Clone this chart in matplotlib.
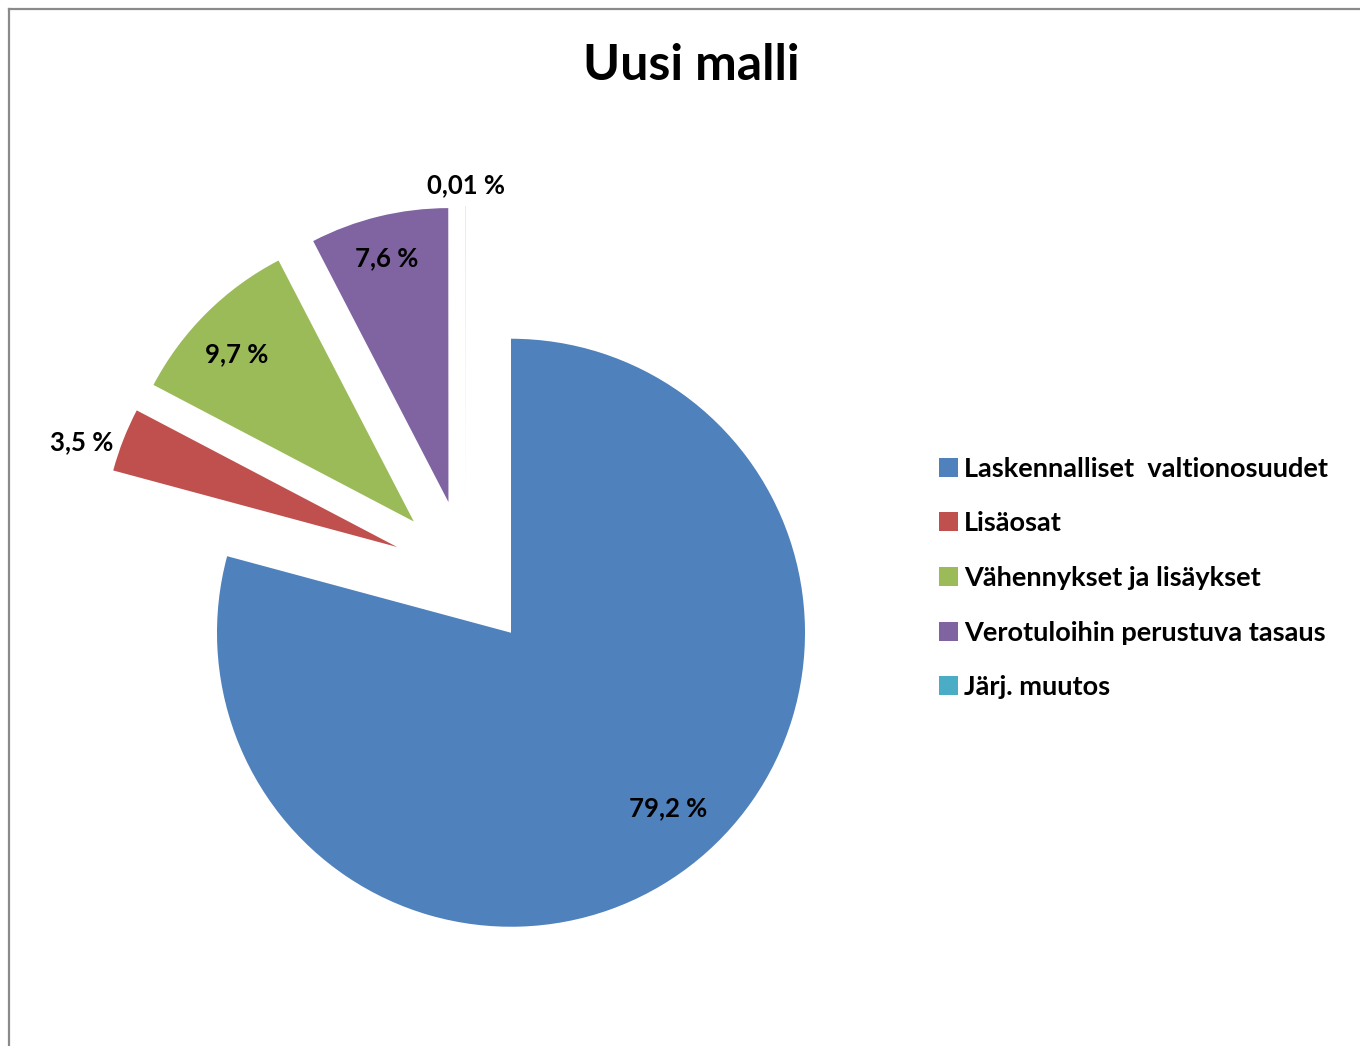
import numpy as np
import matplotlib.pyplot as plt
from matplotlib.lines import Line2D

# chart data
categories = ["Laskennalliset  valtionosuudet", "Lisäosat", "Vähennykset ja lisäykset",
              "Verotuloihin perustuva tasaus", "Järj. muutos"]
shares = [79.2, 3.5, 9.7, 7.6, 0.01]
value_labels = ["79,2 %", "3,5 %", "9,7 %", "7,6 %", "0,01 %"]
colors = ["#4F81BD", "#C0504D", "#9BBB59", "#8064A2", "#4BACC6"]

# label placement relative to each wedge's own vertex:
# distance (fraction of radius) and small angle shift from the mid angle (deg)
label_dist = [0.80, 1.13, 0.83, 0.855, 1.07]
label_shift = [4.5, 3.0, 1.7, 0.4, 0.0]

W, H = 1360, 1046
plt.rcParams['font.family'] = ['Lato', 'DejaVu Sans']

fig = plt.figure(figsize=(W / 100, H / 100), dpi=100)
ax = fig.add_axes([0, 0, 1, 1])

radius = 294
# matplotlib's explode is in data units here (pixels)
wedges, _ = ax.pie(shares, colors=colors, startangle=90, counterclock=False,
                   explode=[74] * len(shares), radius=radius, center=(466, H - 574),
                   wedgeprops=dict(linewidth=0))
ax.set_xlim(0, W)
ax.set_ylim(0, H)
ax.set_aspect("equal")
ax.axis("off")

# data labels, placed along each wedge's mid angle
for w, txt, d, s in zip(wedges, value_labels, label_dist, label_shift):
    mid = np.deg2rad((w.theta1 + w.theta2) / 2 + s)
    cx, cy = w.center
    ax.text(cx + d * radius * np.cos(mid), cy + d * radius * np.sin(mid), txt,
            ha="center", va="center", fontsize=18.5, fontweight="bold", color="black")

fig.text(691 / W, 1 - 65 / H, "Uusi malli", ha="center", va="center",
         fontsize=36, fontweight="bold")

ax.legend(wedges, categories, loc="center left", bbox_to_anchor=(939 / W, 1 - 578 / H),
          bbox_transform=fig.transFigure, frameon=False,
          prop=dict(weight="bold", size=19.5), handlelength=0.7, handleheight=0.7,
          handletextpad=0.22, labelspacing=1.13, borderpad=0, borderaxespad=0)

# chart-area border (left and top edge visible)
fig.add_artist(Line2D([9 / W, 9 / W], [0, 1 - 9 / H], transform=fig.transFigure,
                      color="#8a8a8a", lw=1.6))
fig.add_artist(Line2D([9 / W, 1], [1 - 9 / H, 1 - 9 / H], transform=fig.transFigure,
                      color="#8a8a8a", lw=1.6))

fig.savefig("out.png", dpi=100)
